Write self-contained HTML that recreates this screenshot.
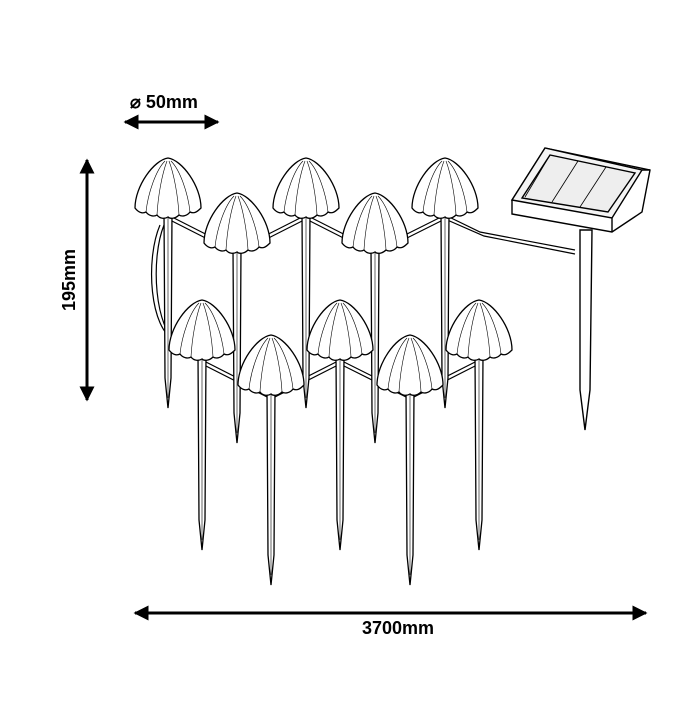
<!DOCTYPE html>
<html><head><meta charset="utf-8"><style>
html,body{margin:0;padding:0;background:#fff;}
svg{display:block}
text{font-family:"Liberation Sans",Arial,sans-serif;font-weight:bold;fill:#000}
</style></head><body>
<svg width="699" height="709" viewBox="0 0 699 709" xmlns="http://www.w3.org/2000/svg">
<defs>
<marker id="ah" viewBox="0 0 10 10" refX="9" refY="5" markerWidth="5" markerHeight="5" orient="auto-start-reverse">
<path d="M0,0 L10,5 L0,10 z" fill="#000"/></marker>
<g id="mush" fill="#fff" stroke="#000" stroke-width="1.3">
<path d="M-4,55 L4,55 L3,220 L0,250 L-3,220 Z"/>
<line x1="0" y1="60" x2="0" y2="240" stroke-width="0.6"/>
<path d="M-33,50 C-33,28 -14,2 0,0 C14,2 33,28 33,50 C29,54 26,56 22,54 C19,58 14,59 11,57 C7,61 2,61 0,59 C-3,61 -8,61 -11,57 C-14,59 -19,58 -22,54 C-26,56 -30,54 -33,50 Z"/>
<path d="M-22,54 C-20,35 -12,12 -3,3 M22,54 C20,35 12,12 3,3 M-11,57 C-10,38 -6,16 -1,3 M11,57 C10,38 6,16 1,3" fill="none" stroke-width="0.6"/>
</g>
</defs>
<g fill="none" stroke="#000" stroke-width="1.2">
<path d="M168,215 L237,250 L306,215 L375,250 L445,215 L480,232 L575,250"/>
<path d="M168,219 L237,254 L306,219 L375,254 L445,219 L484,236 L575,254"/>
<path d="M202,360 L271,395 L340,360 L410,395 L479,360"/>
<path d="M202,364 L271,399 L340,364 L410,399 L479,364"/>
<path d="M160,225 C145,260 150,330 175,340"/>
<path d="M164,225 C150,260 155,330 178,343"/>
</g>
<use href="#mush" x="168" y="158"/>
<use href="#mush" x="306" y="158"/>
<use href="#mush" x="445" y="158"/>
<use href="#mush" x="237" y="193"/>
<use href="#mush" x="375" y="193"/>
<use href="#mush" x="202" y="300"/>
<use href="#mush" x="340" y="300"/>
<use href="#mush" x="479" y="300"/>
<use href="#mush" x="271" y="335"/>
<use href="#mush" x="410" y="335"/>
<g fill="#fff" stroke="#000" stroke-width="1.4">
<path d="M580,230 L592,230 L590,390 L585,430 L580,390 Z"/>
<path d="M512,200 L545,148 L650,170 L642,212 L612,232 L512,214 Z"/>
<path d="M512,200 L612,218 L642,170 L545,148 Z" fill="#f4f4f4"/>
<path d="M612,218 L612,232 M642,170 L650,170"/>
<path d="M522,198 L550,155 L635,173 L608,212 Z" fill="#eee"/>
<path d="M550,155 L525,197 M578,161 L552,202 M606,167 L580,207" stroke-width="0.8"/>
</g>
<g stroke="#000" stroke-width="3" fill="none">
<line x1="125" y1="122" x2="218" y2="122" marker-start="url(#ah)" marker-end="url(#ah)"/>
<line x1="87" y1="160" x2="87" y2="400" marker-start="url(#ah)" marker-end="url(#ah)"/>
<line x1="135" y1="613" x2="646" y2="613" marker-start="url(#ah)" marker-end="url(#ah)"/>
</g>
<text x="130" y="108" font-size="18">⌀ 50mm</text>
<text x="0" y="0" font-size="18" text-anchor="middle" transform="translate(75,280) rotate(-90)">195mm</text>
<text x="398" y="634" font-size="18" text-anchor="middle">3700mm</text>
</svg>
</body></html>
